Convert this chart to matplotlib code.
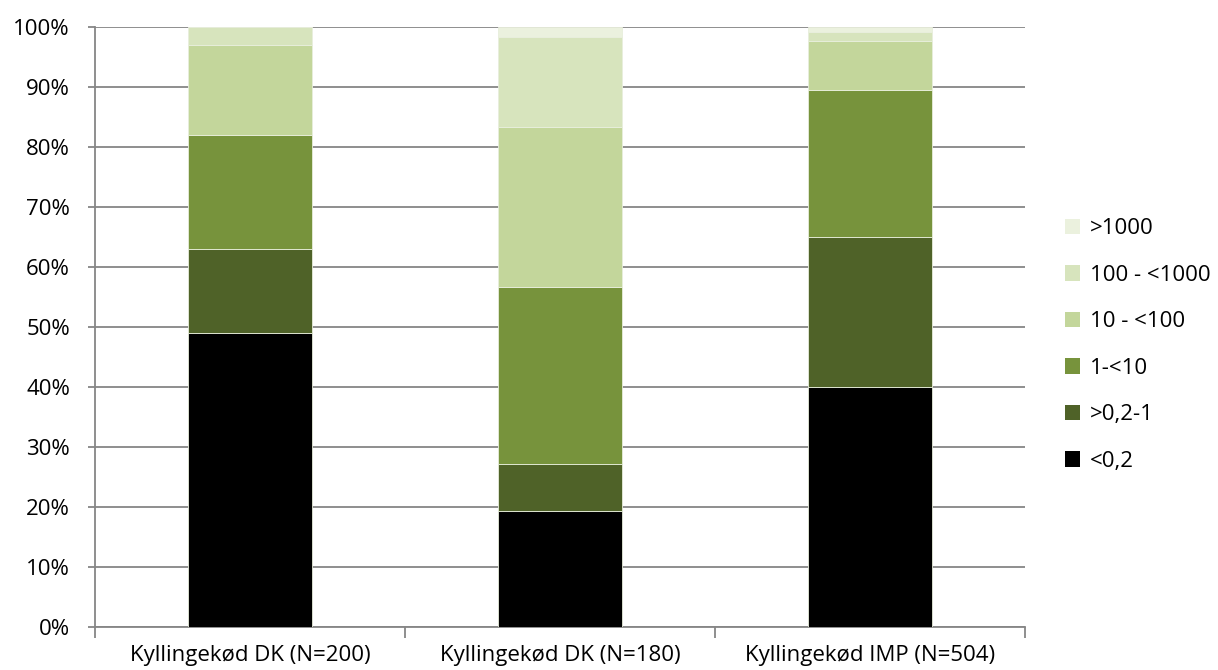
import numpy as np
import matplotlib.pyplot as plt
from matplotlib.patches import Patch

# Andele (%) i hver kategori
kategorier = ["Kyllingekød DK (N=200)", "Kyllingekød DK (N=180)", "Kyllingekød IMP (N=504)"]
niveauer = ["<0,2", ">0,2-1", "1-<10", "10 - <100", "100 - <1000", ">1000"]
lt_02 = [49.0, 19.4, 40.0]
fra_02_1 = [14.0, 7.8, 25.0]
fra_1_10 = [19.0, 29.4, 24.5]
fra_10_100 = [15.0, 26.7, 8.1]
fra_100_1000 = [3.0, 15.0, 1.6]
over_1000 = [0.0, 1.7, 0.8]
farver = ["#000000", "#4F6228", "#77933C", "#C3D69B", "#D7E4BD", "#EBF1DE"]

plt.rcParams['font.family'] = ['Open Sans', 'DejaVu Sans']

fig = plt.figure(figsize=(12.18, 6.7), dpi=100)
ax = fig.add_axes([95 / 1218, 43 / 670, 930 / 1218, 600 / 670])

serier = [lt_02, fra_02_1, fra_1_10, fra_10_100, fra_100_1000, over_1000]
x = np.arange(len(kategorier))
bund = np.zeros(len(kategorier))
for vals, farve in zip(serier, farver):
    vals = np.array(vals)
    ax.bar(x, vals, 0.4, bottom=bund, color=farve, edgecolor="#e8eedc",
           linewidth=0.6, zorder=3)
    bund += vals

ax.set_xlim(-0.5, 2.5)
ax.set_ylim(0, 100)
ax.set_yticks(np.arange(0, 101, 10))
ax.set_yticklabels([f"{v}%" for v in range(0, 101, 10)], fontsize=16)
ax.yaxis.grid(True, color="#868686", linewidth=1.3, zorder=0)
ax.set_axisbelow(True)

ax.set_xticks(x)
ax.set_xticklabels(kategorier, fontsize=16)
ax.set_xticks([-0.5, 0.5, 1.5, 2.5], minor=True)
ax.tick_params(axis="x", which="major", length=0, pad=13)
ax.tick_params(axis="x", which="minor", length=8, color="#868686", width=1.3)
ax.tick_params(axis="y", length=5, color="#868686", width=1.3, pad=13)

for side in ["top", "right"]:
    ax.spines[side].set_visible(False)
ax.spines["left"].set_color("#868686")
ax.spines["bottom"].set_color("#868686")
ax.spines["left"].set_linewidth(1.3)
ax.spines["bottom"].set_linewidth(1.3)

handles = [Patch(facecolor=f, edgecolor="none") for f in farver][::-1]
leg = fig.legend(handles, niveauer[::-1], loc="center left",
                 bbox_to_anchor=(1056 / 1218, 1 - 345 / 670), frameon=False,
                 fontsize=16, handlelength=0.68, handleheight=0.68,
                 handletextpad=0.45, labelspacing=1.15, borderaxespad=0)

fig.savefig("out.png", dpi=100)
